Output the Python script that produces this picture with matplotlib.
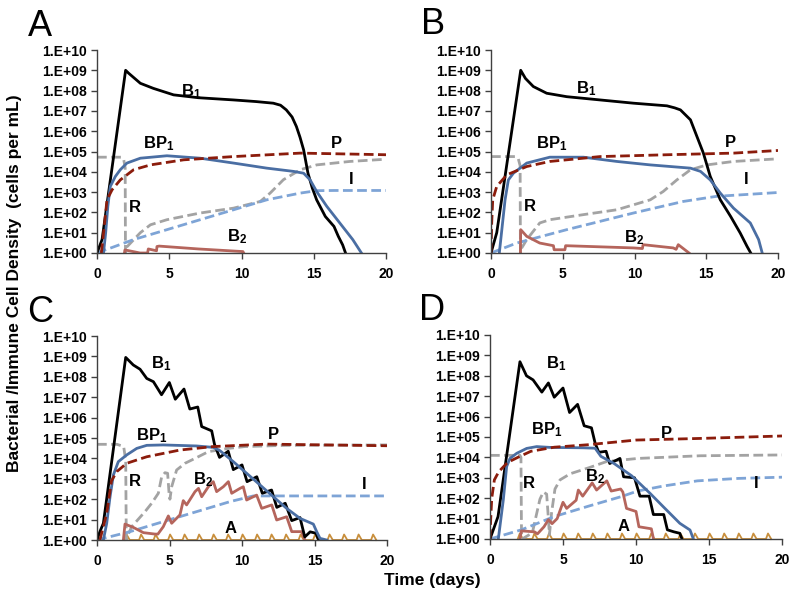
import numpy as np
import matplotlib
matplotlib.use('Agg')
import matplotlib.pyplot as plt
from matplotlib.ticker import FixedLocator, FixedFormatter

plt.rcParams['font.family'] = ['Liberation Sans', 'DejaVu Sans']
plt.rcParams['font.weight'] = 'bold'
plt.rcParams['mathtext.fontset'] = 'custom'
plt.rcParams['mathtext.rm'] = 'Liberation Sans:bold'
plt.rcParams['mathtext.it'] = 'Liberation Sans:bold'
plt.rcParams['mathtext.bf'] = 'Liberation Sans:bold'

# ---------------- data (time in days, log10 of cells per mL) ----------------
# Panel A
A_B1_t = [0, 0.35, 1.98, 2.2, 3.0, 3.9, 5.3, 7.0, 9.45, 11.0, 12.2, 12.7, 13.1, 13.5, 13.8, 14.05, 14.3, 14.6, 14.9, 15.2, 15.8, 16.4, 16.7, 17.0, 17.2]
A_B1_d = [0, 0.66, 9.0, 8.85, 8.36, 8.11, 7.79, 7.65, 7.54, 7.46, 7.38, 7.28, 7.05, 6.7, 6.23, 5.7, 5.08, 3.93, 3.2, 2.62, 1.8, 1.31, 0.82, 0.4, 0]
A_BP1_t = [0.45, 0.6, 0.75, 0.92, 1.27, 1.61, 2.07, 3.0, 4.84, 7.14, 9.45, 11.75, 13.6, 14.3, 14.75, 15.2, 15.9, 16.8, 17.7, 18.3]
A_BP1_d = [0, 1.0, 2.3, 3.28, 3.77, 4.1, 4.43, 4.67, 4.79, 4.67, 4.43, 4.18, 4.02, 3.93, 3.6, 3.03, 2.3, 1.48, 0.66, 0]
A_P_t = [0.3, 0.5, 0.69, 1.04, 1.61, 2.53, 3.7, 6.0, 9.45, 14.06, 16.4, 20]
A_P_d = [0, 1.3, 2.62, 3.11, 3.6, 4.1, 4.34, 4.59, 4.75, 4.92, 4.89, 4.84]
A_R_t = [0, 1.7, 1.85, 1.95, 1.97, 2.0, 2.4, 3.0, 3.7, 4.84, 7.14, 9.45, 11.3, 11.98, 12.9, 14.06, 15.2, 17.5, 20]
A_R_d = [4.72, 4.72, 4.6, 4.2, 0.0, 0.25, 0.55, 1.0, 1.39, 1.64, 1.97, 2.21, 2.54, 2.95, 3.61, 4.1, 4.34, 4.51, 4.62]
A_I_t = [0, 2.53, 4.84, 7.14, 9.45, 11.75, 14.06, 15.2, 16.4, 20]
A_I_d = [0, 0.66, 1.15, 1.64, 2.13, 2.62, 2.95, 3.07, 3.08, 3.08]
A_B2_t = [1.9, 1.93, 2.5, 2.98, 3.5, 3.55, 4.12, 4.15, 4.3, 7.0, 10.1, 10.15]
A_B2_d = [0, 0.15, 0.07, 0, 0, 0.2, 0.11, 0.32, 0.34, 0.2, 0.07, 0]

# Panel B
B_B1_t = [0, 0.4, 2.07, 2.4, 2.95, 3.88, 5.28, 7.6, 9.93, 12.26, 12.8, 13.2, 13.9, 14.35, 14.8, 15.28, 15.98, 16.7, 17.37, 17.84, 18.1]
B_B1_d = [0, 1.0, 9.0, 8.6, 8.2, 7.87, 7.7, 7.54, 7.38, 7.25, 7.15, 7.05, 6.56, 5.74, 4.92, 3.77, 2.62, 1.8, 0.98, 0.33, 0]
B_BP1_t = [0.58, 0.98, 1.21, 1.56, 2.49, 4.1, 6.44, 8.77, 11.1, 13.9, 14.6, 15.28, 15.98, 16.9, 18.07, 18.65, 18.9]
B_BP1_d = [0, 2.62, 3.6, 3.93, 4.43, 4.72, 4.72, 4.51, 4.34, 4.18, 4.02, 3.6, 2.95, 2.21, 1.48, 0.66, 0]
B_P_t = [0, 0.05, 0.12, 0.4, 1.1, 2.49, 4.1, 7.6, 12.26, 16.9, 20]
B_P_d = [0, 1.5, 2.62, 3.28, 3.85, 4.26, 4.51, 4.75, 4.84, 4.92, 5.05]
B_R_t = [0, 1.7, 1.9, 2.03, 2.05, 2.1, 2.49, 3.4, 4.1, 6.44, 8.77, 11.1, 12.0, 12.95, 13.9, 15.05, 16.9, 20]
B_R_d = [4.75, 4.75, 4.65, 4.3, 0, 0.2, 0.66, 1.48, 1.64, 1.89, 2.13, 2.62, 3.03, 3.6, 4.1, 4.34, 4.51, 4.64]
B_I_t = [0, 1.79, 5.28, 9.93, 13.4, 15.7, 20]
B_I_d = [0, 0.49, 1.15, 1.97, 2.54, 2.79, 2.98]
B_B2_t = [2.05, 2.07, 2.49, 3.4, 4.35, 4.4, 5.15, 5.2, 9.93, 10.55, 10.6, 12.7, 12.9, 13.05, 13.8]
B_B2_d = [0, 1.15, 0.82, 0.49, 0.36, 0.16, 0.16, 0.36, 0.25, 0.22, 0.41, 0.25, 0.18, 0.41, 0]

# Panel C
C_B1_t = [0, 0.2, 0.44, 1.98, 2.5, 2.97, 3.43, 3.89, 4.45, 4.99, 5.4, 6.0, 6.4, 6.95, 7.22, 7.91, 8.1, 8.45, 9.05, 9.4, 10.0, 10.35, 11.02, 11.4, 12.04, 12.4, 12.98, 13.43, 14.0, 14.33, 14.7, 15.1, 15.28]
C_B1_d = [0, 0.41, 0.82, 8.95, 8.58, 8.37, 7.92, 7.76, 7.12, 7.72, 6.9, 7.4, 6.42, 6.52, 5.56, 5.35, 4.7, 4.05, 4.35, 3.45, 3.68, 2.86, 3.1, 2.29, 2.45, 1.6, 1.8, 0.95, 1.1, 0.15, 0.4, 0.33, 0]
C_BP1_t = [0.44, 0.67, 0.9, 1.13, 1.47, 2.05, 2.74, 3.43, 4.57, 6.87, 8.02, 8.48, 9.4, 10.32, 11.24, 12.16, 13.08, 14.0, 14.92, 15.15, 15.38, 15.84]
C_BP1_d = [0, 0.82, 2.12, 3.19, 3.84, 4.17, 4.49, 4.64, 4.66, 4.61, 4.54, 4.38, 3.84, 3.27, 2.7, 2.12, 1.55, 1.06, 0.78, 0.41, 0.08, 0]
C_P_t = [0.2, 0.67, 1.0, 1.36, 2.05, 3.43, 5.72, 8.02, 11.7, 20]
C_P_d = [0, 1.3, 2.9, 3.35, 3.76, 4.08, 4.41, 4.58, 4.7, 4.62]
C_R_t = [0, 1.38, 1.84, 1.98, 2.02, 2.05, 2.39, 3.31, 3.77, 4.23, 4.46, 4.69, 4.87, 4.97, 5.03, 5.15, 5.49, 6.07, 6.76, 7.68, 9.06, 10.2, 13, 20]
C_R_d = [4.69, 4.69, 4.58, 3.9, 0, 0.1, 0.65, 1.39, 1.8, 2.29, 3.1, 3.3, 3.27, 2.29, 2.0, 2.61, 3.43, 3.76, 4.0, 4.33, 4.49, 4.58, 4.64, 4.66]
C_I_t = [0, 2.28, 4.57, 6.87, 9.17, 10.78, 20]
C_I_d = [0, 0.41, 0.9, 1.39, 1.88, 2.16, 2.16]
C_B2_t = [1.82, 1.93, 2.5, 3.2, 4.0, 4.2, 4.57, 4.92, 5.15, 5.72, 5.95, 6.18, 6.76, 7.0, 7.22, 7.68, 8.02, 8.25, 8.71, 9.06, 9.29, 9.86, 10.09, 10.32, 11.01, 11.36, 12.05, 12.39, 13.08, 13.43, 14.11, 14.34]
C_B2_d = [0, 0.78, 0.62, 0.36, 0.29, 0.29, 0.65, 1.18, 0.82, 1.23, 1.93, 1.72, 2.37, 2.53, 2.12, 2.61, 2.86, 2.37, 2.61, 2.86, 2.29, 2.53, 2.61, 1.96, 2.2, 1.55, 1.72, 0.98, 1.14, 0.41, 0.41, 0]
C_A_days = [2, 3, 4, 5, 6, 7, 8, 9, 10, 11, 12, 13, 14, 15, 16, 17, 18, 19]
C_A_peak = 0.27

# Panel D
D_B1_t = [0, 0.3, 0.55, 2.05, 2.5, 2.95, 3.55, 4.0, 4.4, 5.0, 5.45, 6.0, 6.45, 6.95, 7.2, 7.45, 7.95, 8.2, 8.9, 9.15, 9.9, 10.27, 10.9, 11.19, 11.9, 12.15, 12.6, 13.0, 13.15]
D_B1_d = [0, 0.6, 1.1, 8.69, 8.0, 7.8, 7.2, 7.65, 6.95, 7.4, 6.2, 6.6, 5.55, 5.45, 4.7, 4.25, 4.3, 3.7, 3.95, 3.05, 3.0, 2.1, 2.1, 1.2, 1.2, 0.45, 0.35, 0.28, 0]
D_BP1_t = [0.57, 0.91, 1.14, 1.37, 1.83, 2.51, 3.2, 4.11, 6.39, 7.2, 7.6, 8.5, 9.7, 10.96, 11.87, 13.0, 13.7, 13.93]
D_BP1_d = [0, 1.91, 3.55, 3.95, 4.2, 4.44, 4.53, 4.49, 4.47, 4.45, 4.05, 3.7, 3.1, 2.24, 1.58, 0.77, 0.44, 0]
D_P_t = [0, 0.05, 0.12, 0.3, 0.6, 1.2, 1.9, 2.8, 4.4, 6.7, 10.0, 14.4, 20]
D_P_d = [0, 1.0, 2.0, 2.9, 3.3, 3.75, 4.0, 4.3, 4.5, 4.62, 4.85, 4.93, 5.05]
D_R_t = [0, 2.05, 2.12, 2.16, 2.2, 2.9, 3.15, 3.42, 3.65, 3.88, 4.0, 4.07, 4.22, 4.45, 4.8, 5.5, 6.8, 8.0, 10.14, 14.38, 20]
D_R_d = [4.1, 4.1, 4.0, 0, 0, 0.3, 1.1, 1.95, 2.3, 2.2, 1.0, 0.2, 1.3, 2.45, 2.9, 3.2, 3.5, 3.8, 3.95, 4.08, 4.12]
D_I_t = [0, 2.15, 4.4, 6.7, 9.0, 10.1, 11.9, 14.2, 17.0, 20]
D_I_d = [0, 0.45, 1.1, 1.6, 2.08, 2.35, 2.6, 2.85, 2.97, 3.03]
D_B2_t = [2.05, 2.15, 3.05, 3.25, 3.7, 4.0, 4.25, 4.6, 5.0, 5.25, 5.9, 6.05, 6.35, 7.0, 7.3, 8.0, 8.3, 8.95, 9.1, 9.35, 10.0, 10.2, 11.05, 11.2]
D_B2_d = [0, 0.4, 0.35, 0.25, 0.6, 0.95, 0.75, 1.0, 1.8, 1.5, 1.9, 2.4, 2.1, 2.75, 2.4, 2.85, 2.35, 2.45, 2.3, 1.5, 1.35, 0.6, 0.5, 0]
D_A_days = [2, 3, 4, 5, 6, 7, 8, 9, 10, 11, 12, 13, 14, 15, 16, 17, 18, 19]
D_A_peak = 0.27

# tick labels
y_exponents = [0, 1, 2, 3, 4, 5, 6, 7, 8, 9, 10]
y_labels = ['1.E+00', '1.E+01', '1.E+02', '1.E+03', '1.E+04', '1.E+05',
            '1.E+06', '1.E+07', '1.E+08', '1.E+09', '1.E+10']
x_ticks = [0, 5, 10, 15, 20]

# ---------------- styles ----------------
COL = {'B1': '#000000', 'BP1': '#4a6ea3', 'P': '#8b1c0c', 'R': '#a3a3a3',
       'I': '#7ea4d6', 'B2': '#b5655c', 'A': '#c98f3c'}
DASH = (3.5, 1.6)

fig = plt.figure(figsize=(7.96, 6.0), dpi=100)


def add_ax(l, t, r, b):
    return fig.add_axes([l / 796, 1 - b / 600, (r - l) / 796, (b - t) / 600])


def style(ax):
    ax.set_yscale('log')
    ax.set_xlim(0, 20)
    ax.set_ylim(1, 1e10)
    ax.yaxis.set_major_locator(FixedLocator([10.0 ** e for e in y_exponents]))
    ax.yaxis.set_major_formatter(FixedFormatter(y_labels))
    ax.yaxis.set_minor_locator(FixedLocator([]))
    ax.set_xticks(x_ticks)
    ax.set_xticklabels([str(v) for v in x_ticks])
    for s in ['top', 'right']:
        ax.spines[s].set_visible(False)
    for s in ['left', 'bottom']:
        ax.spines[s].set_color('#404040')
        ax.spines[s].set_linewidth(1.0)
    ax.tick_params(axis='both', direction='out', length=4, width=1.0,
                   color='#404040', labelsize=10)
    ax.tick_params(axis='x', pad=6)
    for lab in ax.get_xticklabels() + ax.get_yticklabels():
        lab.set_fontweight('bold')


def pw(d):
    return [10.0 ** v for v in d]


def solid(ax, t, d, key, lw=2.0):
    ax.plot(t, pw(d), color=COL[key], lw=lw, solid_joinstyle='round', clip_on=True)


def dashed(ax, t, d, key, lw=2.0):
    ax.plot(t, pw(d), color=COL[key], lw=lw, linestyle=(0, DASH), dash_capstyle='butt')


def doses(ax, days, peak):
    xs, ys = [], []
    for k in days:
        xs += [k - 0.1, k + 0.04, k + 0.26]
        ys += [1.0, 10.0 ** peak, 1.0]
    ax.plot(xs, ys, color=COL['A'], lw=1.3, clip_on=False, zorder=1)


def lab(ax, x, y, s, size=12):
    ax.text(x, 10.0 ** y, s, ha='center', va='center', fontsize=size, fontweight='bold')


panels = [
    ('A', (97, 50, 386, 253), (40, 26)),
    ('B', (491, 50, 778, 253), (433, 25)),
    ('C', (97, 336, 387, 540), (40, 313)),
    ('D', (490, 335, 782, 539), (432, 311)),
]

axes = {}
for name, rect, _ in panels:
    axes[name] = add_ax(*rect)
    style(axes[name])

# Panel A
ax = axes['A']
dashed(ax, A_R_t, A_R_d, 'R')
dashed(ax, A_I_t, A_I_d, 'I')
solid(ax, A_B2_t, A_B2_d, 'B2')
solid(ax, A_B1_t, A_B1_d, 'B1')
solid(ax, A_BP1_t, A_BP1_d, 'BP1')
dashed(ax, A_P_t, A_P_d, 'P')
lab(ax, 6.5, 7.95, r'B$_1$')
lab(ax, 4.3, 5.38, r'BP$_1$')
lab(ax, 16.6, 5.38, 'P')
lab(ax, 17.6, 3.6, 'I')
lab(ax, 2.65, 2.26, 'R')
lab(ax, 9.7, 0.79, r'B$_2$')

# Panel B
ax = axes['B']
dashed(ax, B_R_t, B_R_d, 'R')
dashed(ax, B_I_t, B_I_d, 'I')
solid(ax, B_B2_t, B_B2_d, 'B2')
solid(ax, B_B1_t, B_B1_d, 'B1')
solid(ax, B_BP1_t, B_BP1_d, 'BP1')
dashed(ax, B_P_t, B_P_d, 'P')
lab(ax, 6.6, 8.1, r'B$_1$')
lab(ax, 4.2, 5.4, r'BP$_1$')
lab(ax, 16.7, 5.44, 'P')
lab(ax, 17.8, 3.6, 'I')
lab(ax, 2.72, 2.3, 'R')
lab(ax, 10.0, 0.74, r'B$_2$')

# Panel C
ax = axes['C']
doses(ax, C_A_days, C_A_peak)
dashed(ax, C_R_t, C_R_d, 'R')
dashed(ax, C_I_t, C_I_d, 'I')
solid(ax, C_B2_t, C_B2_d, 'B2')
solid(ax, C_B1_t, C_B1_d, 'B1')
solid(ax, C_BP1_t, C_BP1_d, 'BP1')
dashed(ax, C_P_t, C_P_d, 'P')
lab(ax, 4.4, 8.66, r'B$_1$')
lab(ax, 3.8, 5.1, r'BP$_1$')
lab(ax, 12.2, 5.15, 'P')
lab(ax, 18.4, 2.73, 'I')
lab(ax, 2.64, 2.86, 'R')
lab(ax, 7.35, 2.94, r'B$_2$')
lab(ax, 9.2, 0.57, 'A')

# Panel D
ax = axes['D']
doses(ax, D_A_days, D_A_peak)
dashed(ax, D_R_t, D_R_d, 'R')
dashed(ax, D_I_t, D_I_d, 'I')
solid(ax, D_B2_t, D_B2_d, 'B2')
solid(ax, D_B1_t, D_B1_d, 'B1')
solid(ax, D_BP1_t, D_BP1_d, 'BP1')
dashed(ax, D_P_t, D_P_d, 'P')
lab(ax, 4.55, 8.61, r'B$_1$')
lab(ax, 3.9, 5.34, r'BP$_1$')
lab(ax, 12.1, 5.18, 'P')
lab(ax, 18.26, 2.73, 'I')
lab(ax, 2.63, 2.73, 'R')
lab(ax, 7.2, 3.06, r'B$_2$')
lab(ax, 9.13, 0.6, 'A')

for name, _, (px, py) in panels:
    fig.text(px / 796, 1 - py / 600, name, ha='center', va='center',
             fontsize=26, fontweight='normal')

fig.text(15 / 796, 1 - 283 / 600, 'Bacterial /Immune Cell Density  (cells per mL)',
         rotation=90, ha='center', va='center', fontsize=12.5, fontweight='bold')
fig.text(432 / 796, 1 - 581 / 600, 'Time (days)', ha='center', va='center',
         fontsize=12.5, fontweight='bold')

fig.savefig('out.png', dpi=100)
